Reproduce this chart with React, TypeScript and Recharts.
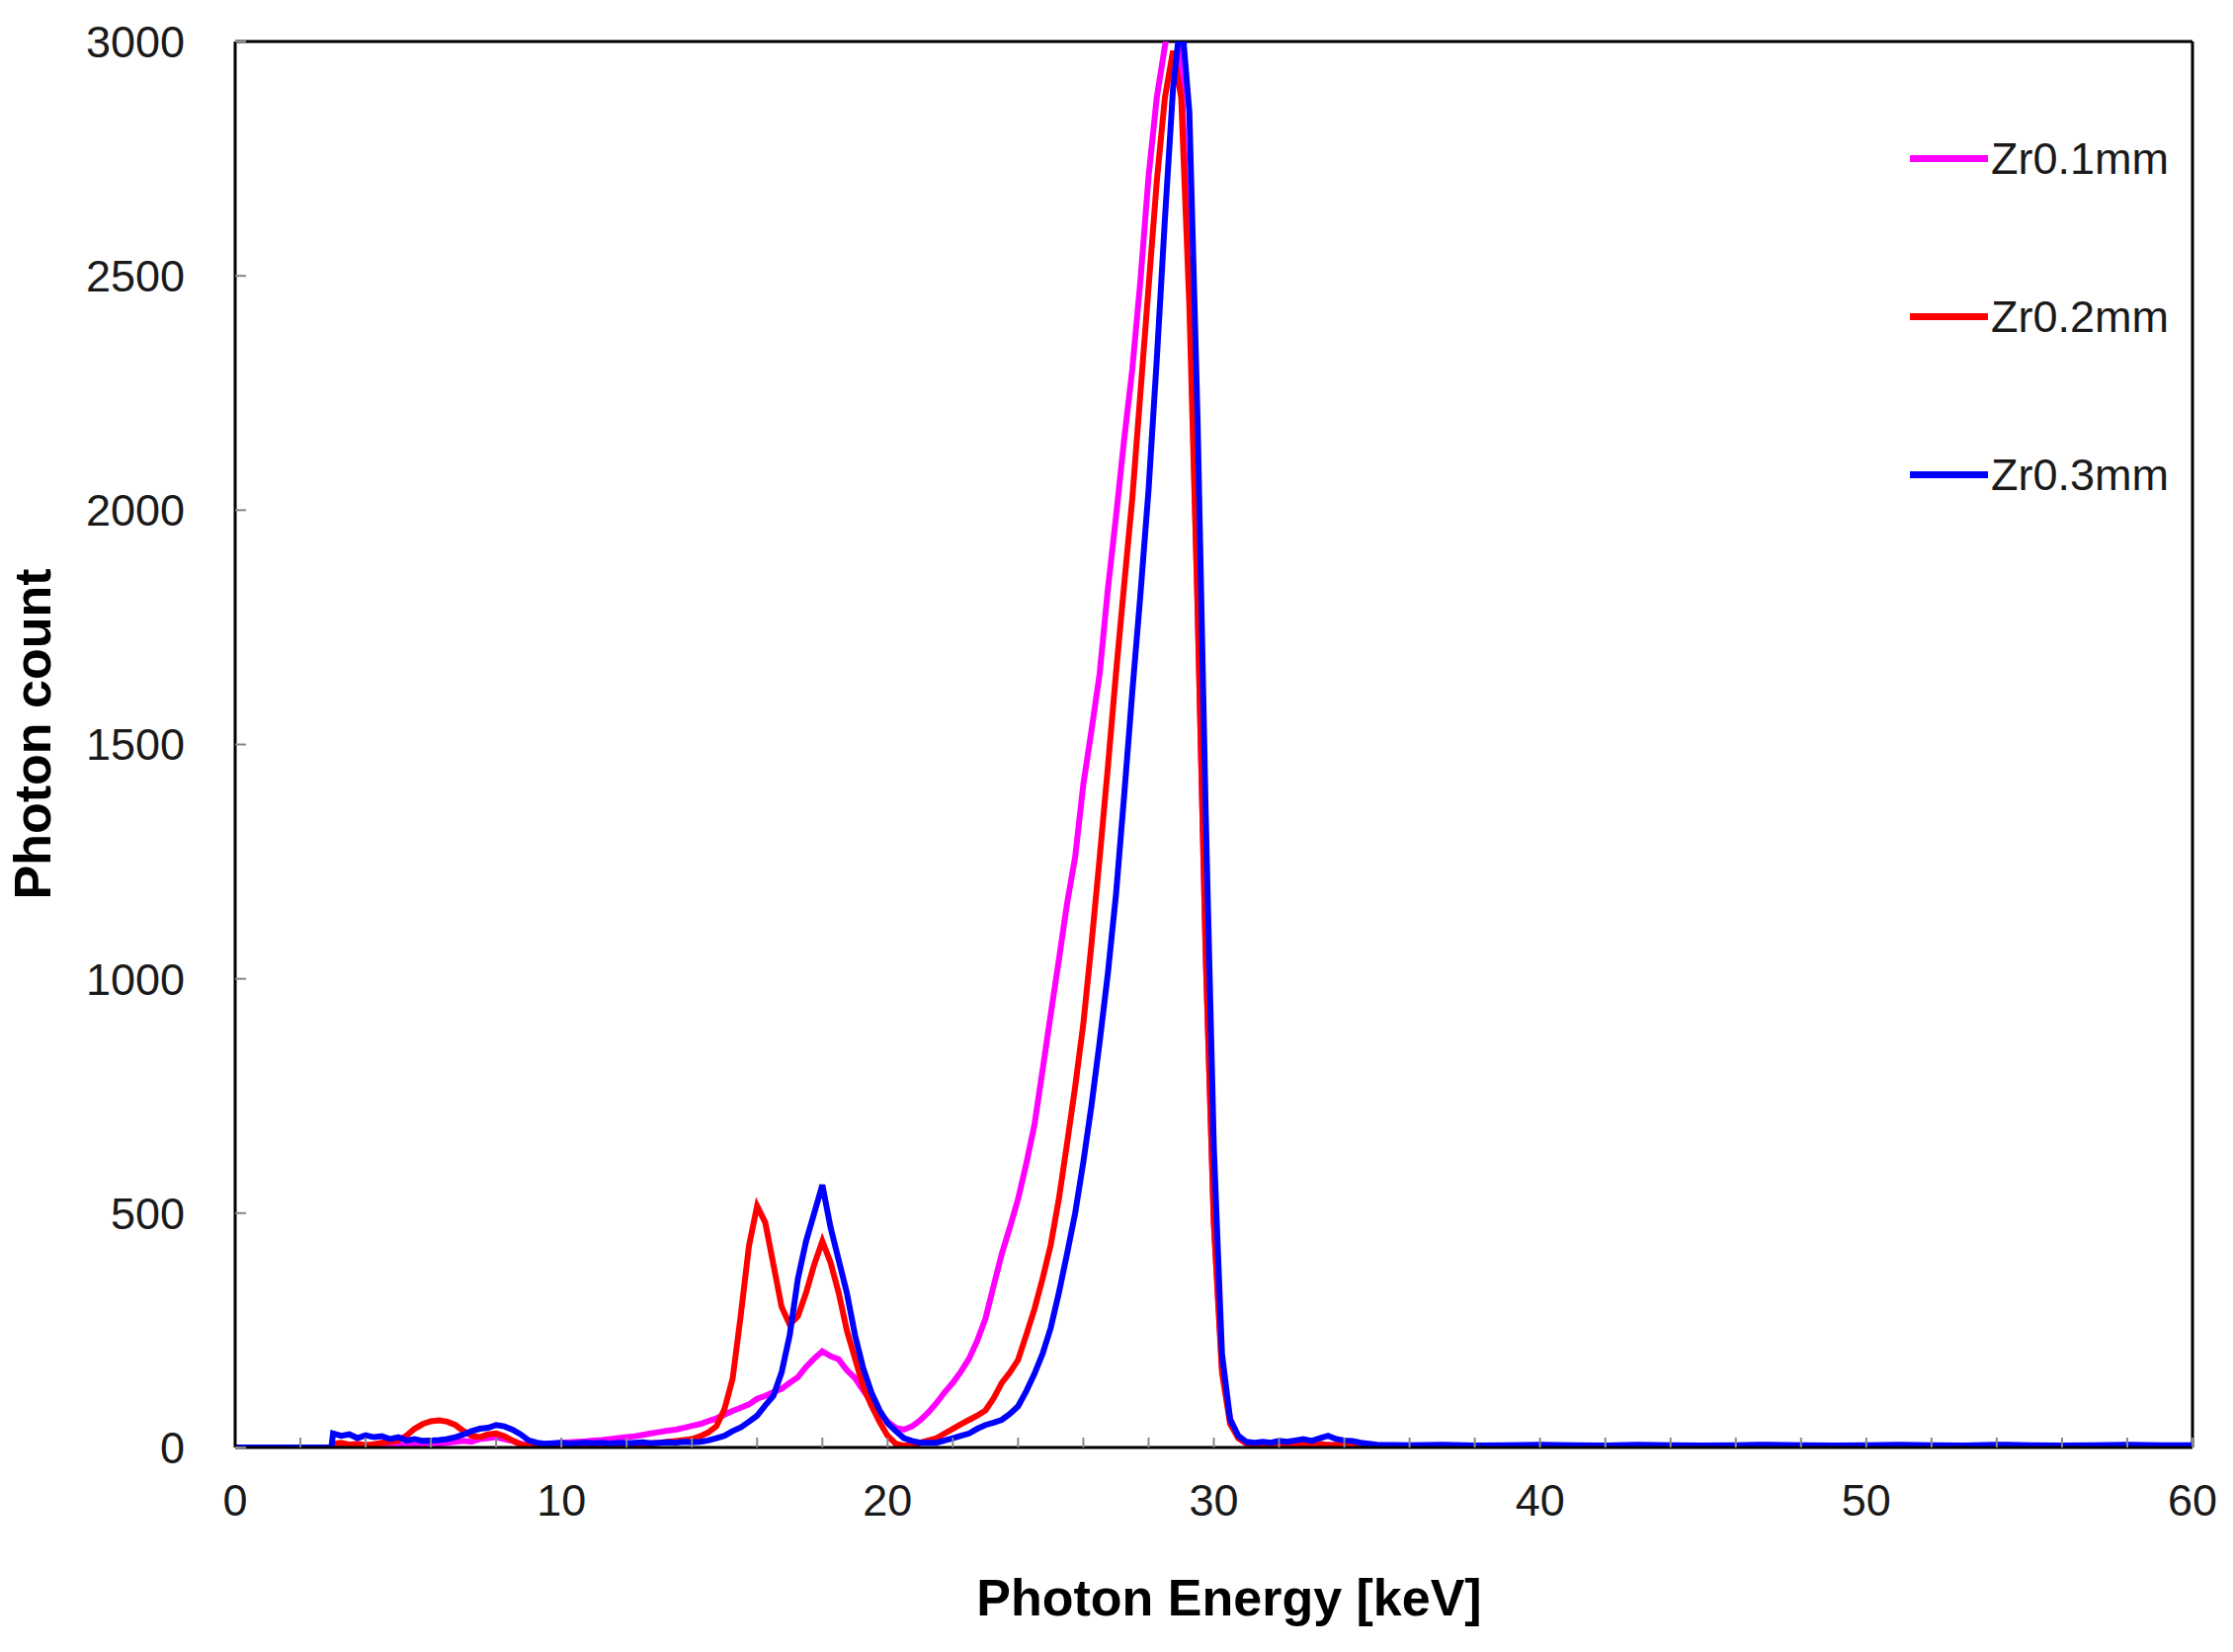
import { LineChart, Line, XAxis, YAxis, ReferenceLine, Legend, Label } from "recharts"

const FONT = '"Liberation Sans", Arial, sans-serif'

// photon energy grid [keV]
const ENERGY = [
  0, 2.95,
  3, 3.25, 3.5, 3.75,
  4, 4.25, 4.5, 4.75,
  5, 5.25, 5.5, 5.75,
  6, 6.25, 6.5, 6.75,
  7, 7.25, 7.5, 7.75,
  8, 8.25, 8.5, 8.75,
  9, 9.25, 9.5, 9.75,
  10, 10.25, 10.5, 10.75,
  11, 11.25, 11.5, 11.75,
  12, 12.25, 12.5, 12.75,
  13, 13.25, 13.5, 13.75,
  14, 14.25, 14.5, 14.75,
  15, 15.25, 15.5, 15.75,
  16, 16.25, 16.5, 16.75,
  17, 17.25, 17.5, 17.75,
  18, 18.25, 18.5, 18.75,
  19, 19.25, 19.5, 19.75,
  20, 20.25, 20.5, 20.75,
  21, 21.25, 21.5, 21.75,
  22, 22.25, 22.5, 22.75,
  23, 23.25, 23.5, 23.75,
  24, 24.25, 24.5, 24.75,
  25, 25.25, 25.5, 25.75,
  26, 26.25, 26.5, 26.75,
  27, 27.25, 27.5, 27.75,
  28, 28.25, 28.5, 28.75,
  29, 29.25, 29.5, 29.75,
  30, 30.25, 30.5, 30.75,
  31, 31.25, 31.5, 31.75,
  32, 32.25, 32.5, 32.75,
  33, 33.25, 33.5, 33.75,
  34, 34.25, 34.5, 34.75,
  35, 36, 37, 38, 39, 40, 41, 42, 43, 44, 45, 46, 47,
  48, 49, 50, 51, 52, 53, 54, 55, 56, 57, 58, 59, 60,
]

const ZR01 = [
  0, 0,
  5, 4, 6, 3,
  5, 4, 6, 5,
  4, 6, 5, 8,
  10, 8, 10, 12,
  14, 12, 18, 20,
  22, 18, 14, 8,
  5, 6, 8, 8,
  10, 11, 12, 13,
  15, 16, 18, 20,
  22, 24, 27, 30,
  33, 36, 38, 42,
  46, 50, 56, 62,
  70, 78, 85, 92,
  104, 110, 118, 125,
  138, 150, 172, 190,
  205, 195, 188, 165,
  148, 122, 98, 75,
  55, 42, 38, 45,
  58, 75, 95, 118,
  138, 162, 190, 228,
  275, 345, 413, 470,
  530, 605, 688, 805,
  924, 1040, 1160, 1260,
  1415, 1530, 1651, 1830,
  1985, 2150, 2300, 2490,
  2712, 2880, 2990, 3080,
  2940, 2500, 1800, 1050,
  480, 170, 60, 20,
  8, 5, 4, 5,
  4, 5, 3, 4,
  5, 4, 6, 4,
  3, 4, 3, 2,
  2, 2, 3, 2, 2, 3, 2, 2, 2, 3, 2, 2, 2,
  3, 2, 2, 2, 2, 3, 2, 2, 2, 3, 2, 2, 2,
]

const ZR02 = [
  0, 0,
  8, 10, 6, 8,
  5, 7, 10, 12,
  15, 25, 40, 50,
  56, 58, 55, 48,
  35, 25, 22, 28,
  30, 24, 15, 6,
  4, 4, 5, 5,
  5, 6, 5, 6,
  6, 7, 6, 7,
  6, 7, 8, 9,
  10, 12, 14, 16,
  18, 24, 32, 45,
  82, 147, 283, 430,
  515, 480, 390, 300,
  262, 280, 330, 390,
  440, 395, 330, 250,
  190, 130, 90, 55,
  25, 8, 4, 5,
  10, 15, 20, 30,
  40, 50, 59, 68,
  79, 105, 138, 160,
  187, 240, 295, 360,
  432, 530, 648, 770,
  904, 1075, 1258, 1450,
  1651, 1840, 2024, 2250,
  2476, 2700, 2880, 2980,
  2880, 2437, 1800, 1061,
  480, 160, 50, 20,
  8, 6, 8, 5,
  6, 8, 5, 7,
  6, 8, 5, 6,
  5, 4, 3, 2,
  2, 2, 2, 2, 2, 2, 2, 2, 2, 2, 2, 2, 2,
  2, 2, 2, 2, 2, 2, 2, 2, 2, 2, 2, 2, 2,
]

const ZR03 = [
  0, 0,
  30, 25, 28, 20,
  26, 22, 24, 18,
  22, 15, 18, 14,
  15, 16, 18, 22,
  28, 35, 40, 42,
  48, 45, 38, 28,
  15, 10, 8, 9,
  10, 8, 9, 10,
  9, 10, 8, 10,
  9, 10, 11, 9,
  10, 11, 10, 12,
  11, 12, 15, 20,
  25, 35, 43, 55,
  68, 90, 110, 160,
  240, 360, 440, 500,
  560, 470, 400, 330,
  240, 170, 118, 80,
  52, 35, 20, 14,
  10, 10, 10, 15,
  20, 25, 30, 40,
  48, 53, 59, 72,
  88, 120, 157, 200,
  255, 330, 413, 500,
  609, 730, 865, 1010,
  1179, 1390, 1611, 1820,
  2044, 2320, 2620, 2900,
  3060, 2850, 2200, 1356,
  640, 200, 60, 25,
  12, 10, 12, 10,
  14, 12, 15, 18,
  14, 20, 25, 18,
  15, 14, 10, 8,
  6, 5, 6, 4, 5, 6, 5, 4, 6, 5, 4, 5, 6,
  5, 4, 5, 6, 5, 4, 6, 5, 4, 5, 6, 5, 5,
]

const X_TICKS = [0, 2, 4, 6, 8, 10, 12, 14, 16, 18, 20, 22, 24, 26, 28, 30,
  32, 34, 36, 38, 40, 42, 44, 46, 48, 50, 52, 54, 56, 58, 60]
const Y_TICKS = [0, 500, 1000, 1500, 2000, 2500, 3000]

const SERIES = [
  { key: "zr01", name: "Zr0.1mm", color: "#ff00ff" },
  { key: "zr02", name: "Zr0.2mm", color: "#ff0000" },
  { key: "zr03", name: "Zr0.3mm", color: "#0000ff" },
]

const rows = ENERGY.map((e, i) => ({ e, zr01: ZR01[i], zr02: ZR02[i], zr03: ZR03[i] }))

function LegendBox() {
  return (
    <div style={{ fontFamily: FONT, fontSize: 45, color: "#1a1a1a", lineHeight: 1 }}>
      {SERIES.map((s) => (
        <div key={s.key} style={{ height: 160, display: "flex", alignItems: "center" }}>
          <div style={{ width: 79, height: 7, background: s.color, marginRight: 3 }} />
          <span>{s.name}</span>
        </div>
      ))}
    </div>
  )
}

export default function App() {
  // pull the chart over the body margin so it starts at the page corner
  return (
    <div style={{ width: 2260, height: 1658, margin: "-8px 0 0 -8px" }}>
      <LineChart
        width={2260}
        height={1658}
        data={rows}
        margin={{ top: 42, right: 41, left: 0, bottom: 0 }}
      >
        <XAxis
          dataKey="e"
          type="number"
          domain={[0, 60]}
          ticks={X_TICKS}
          interval={0}
          tickFormatter={(v: number) => (v % 10 === 0 ? String(v) : "")}
          tickSize={-10}
          tickMargin={47}
          height={193}
          tick={{ fontSize: 45, fill: "#1a1a1a", fontFamily: FONT }}
          tickLine={{ stroke: "#888", strokeWidth: 2 }}
          axisLine={{ stroke: "#000", strokeWidth: 3 }}
        >
          <Label
            content={({ viewBox }: any) => (
              <text
                x={1244}
                y={viewBox.y + 170}
                textAnchor="middle"
                fontFamily={FONT}
                fontWeight="bold"
                fontSize={52}
                fill="#000"
              >
                Photon Energy [keV]
              </text>
            )}
          />
        </XAxis>
        <YAxis
          type="number"
          domain={[0, 3000]}
          ticks={Y_TICKS}
          allowDataOverflow
          width={238}
          tickSize={-11}
          tickMargin={62}
          tick={{ fontSize: 45, fill: "#1a1a1a", fontFamily: FONT }}
          tickLine={{ stroke: "#888", strokeWidth: 2 }}
          axisLine={{ stroke: "#000", strokeWidth: 3 }}
        >
          <Label
            content={() => (
              <text
                x={51}
                y={743}
                transform="rotate(-90, 51, 743)"
                textAnchor="middle"
                fontFamily={FONT}
                fontWeight="bold"
                fontSize={52}
                fill="#000"
              >
                Photon count
              </text>
            )}
          />
        </YAxis>
        <ReferenceLine y={3000} stroke="#000" strokeWidth={3} />
        <ReferenceLine x={60} stroke="#000" strokeWidth={3} />
        {SERIES.map((s) => (
          <Line
            key={s.key}
            dataKey={s.key}
            name={s.name}
            type="linear"
            stroke={s.color}
            strokeWidth={6}
            dot={false}
            isAnimationActive={false}
          />
        ))}
        <Legend
          layout="vertical"
          align="center"
          verticalAlign="middle"
          content={() => <LegendBox />}
          wrapperStyle={{ left: 1933, top: 80, width: 320, height: 480 }}
        />
      </LineChart>
    </div>
  )
}
